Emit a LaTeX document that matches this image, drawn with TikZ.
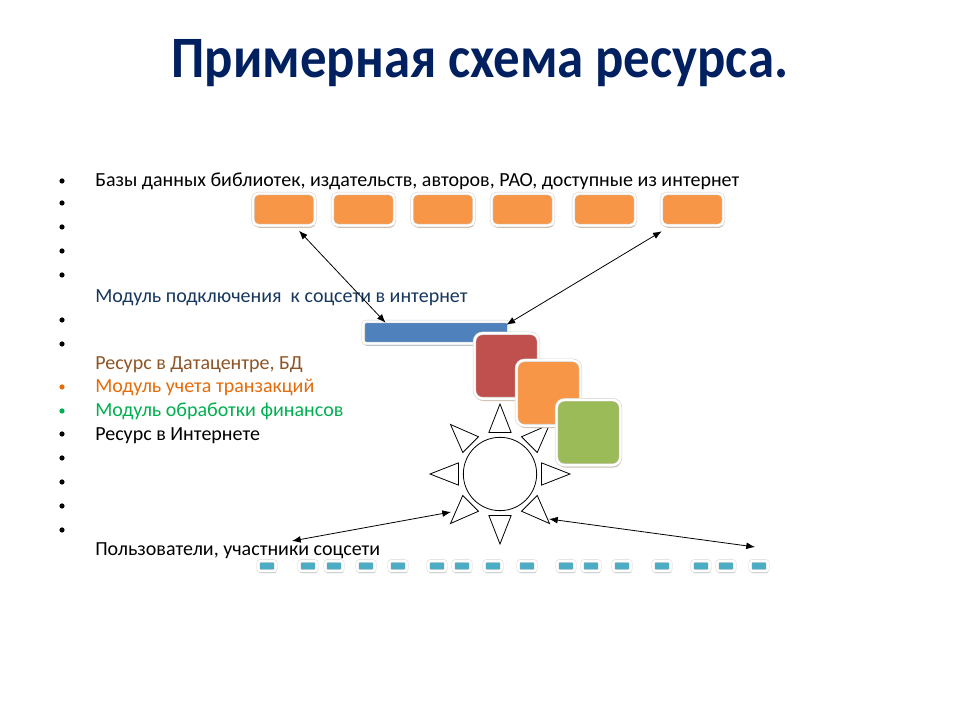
\documentclass[tikz,border=0pt]{standalone}
\usepackage{fontspec}
\setmainfont{Carlito}
\newfontfamily\titlefont[FakeStretch=0.9]{Carlito}
\usepackage{tikz}
\usetikzlibrary{arrows.meta,positioning,calc,shadows}
\definecolor{navy}{HTML}{002060}
\definecolor{accorange}{HTML}{F79646}
\definecolor{accblue}{HTML}{4F81BD}
\definecolor{accred}{HTML}{C0504D}
\definecolor{accgreen}{HTML}{9BBB59}
\definecolor{accaqua}{HTML}{4BACC6}
\definecolor{slate}{HTML}{17375E}
\definecolor{rust}{HTML}{8F5526}
\definecolor{tangerine}{HTML}{E46C0A}
\definecolor{leaf}{HTML}{00B050}
\definecolor{warmshade}{HTML}{CDB8A2}
\definecolor{coolshade}{HTML}{A9BCC4}
\definecolor{rim}{HTML}{D6D0CA}

\begin{document}
\begin{tikzpicture}[x=0.75pt,y=0.75pt,
 framed/.style={draw=rim,line width=0.4pt,double=white,double distance=1.7pt},
 dbbox/.style={framed,fill=accorange,rounded corners=4pt,
 minimum width=46.5pt,minimum height=24pt,inner sep=0pt,
 drop shadow={shadow xshift=0.6pt,shadow yshift=-1.8pt,fill=warmshade,opacity=0.9}},
 sqbox/.style={framed,rounded corners=6pt,
 minimum width=48pt,minimum height=49pt,inner sep=0pt,
 drop shadow={shadow xshift=0.6pt,shadow yshift=-1.8pt,fill=warmshade,opacity=0.9}},
 pcbox/.style={draw=rim,line width=0.3pt,double=white,double distance=1.8pt,
 fill=accaqua,rounded corners=1.5pt,
 minimum width=13pt,minimum height=7.5pt,inner sep=0pt,
 drop shadow={shadow xshift=0.4pt,shadow yshift=-1.6pt,fill=coolshade,opacity=0.9}},
 ray/.style={draw=black,line width=0.6pt,fill=white},
 arr/.style={{Latex[length=2.3mm,width=1.8mm]}-{Latex[length=2.3mm,width=1.8mm]},draw=black,line width=0.6pt},
 txt/.style={anchor=base west,inner sep=0pt,font=\fontsize{15}{18}\selectfont}]
\useasboundingbox (0,0) rectangle (960,720);
\fill[white] (0,0) rectangle (960,720);

% title
\node[anchor=base,inner sep=0pt,text=navy,font=\titlefont\fontsize{44}{50}\selectfont\bfseries] (title) at (480,642) {Примерная схема ресурса.};

% bullets
\foreach \y in {539,517,493,469,445,400,376,286,262,238,214,190}
 \fill (62,\y) circle (2.6);
\fill[tangerine] (62,333) circle (2.6);
\fill[leaf] (62,309) circle (2.6);

% list texts
\node[txt] (t1) at (95,533) {Базы данных библиотек, издательств, авторов, РАО, доступные из интернет};
\node[txt,text=slate] (t2) at (95,417) {Модуль подключения\ \ к соцсети в интернет};
\node[txt,text=rust] (t3) at (95,350) {Ресурс в Датацентре, БД};
\node[txt,text=tangerine] (t4) at (95,327) {Модуль учета транзакций};
\node[txt,text=leaf] (t5) at (95,303) {Модуль обработки финансов};
\node[txt] (t6) at (95,279) {Ресурс в Интернете};
\node[txt] (t7) at (95,164) {Пользователи, участники соцсети};

% databases
\foreach \x [count=\i] in {284,363.5,443,522.5,604.5,692.5}
 \node[dbbox] (db\i) at (\x,510.5) {};

% sun
\node[circle,draw=black,line width=0.6pt,minimum size=55pt,inner sep=0pt] (sun) at (500,246) {};
\foreach \a in {0,45,...,315}
 \draw[ray] ($(sun.center)+(\a:70)$) -- ($(sun.center)+(\a+15:43)$) -- ($(sun.center)+(\a-15:43)$) -- cycle;

% connection module and datacentre
\node[framed,fill=accblue,rounded corners=2pt,minimum width=109pt,
 minimum height=16.5pt,inner sep=0pt,
 drop shadow={shadow xshift=0.6pt,shadow yshift=-1.8pt,fill=coolshade,opacity=0.9}] (bar) at (436,387.5) {};
\node[sqbox,fill=accred] (rdc) at (506.5,354) {};
\node[sqbox,fill=accorange] (trn) at (548.5,327) {};
\node[sqbox,fill=accgreen] (fin) at (588.5,287.5) {};

% users
\foreach \x [count=\i] in {267,308,334,366,398,437,462,493,527,566,591,622,662,701,726,759}
 \node[pcbox] (u\i) at (\x,154) {};
\coordinate (usrl) at (292,179);
\coordinate (usrr) at (755,173);

% links
\draw[arr] ($(db1.south)+(15,-5)$) -- ($(bar.north west)+(22.5,-1.5)$);
\draw[arr] ($(db6.south west)+(0.5,-5.5)$) -- ($(bar.north east)+(-2.5,-3.5)$);
\draw[arr] (usrl) -- ($(sun.center)+(-49,-38)$);
\draw[arr] ($(sun.center)+(49,-45)$) -- (usrr);
\end{tikzpicture}
\end{document}
